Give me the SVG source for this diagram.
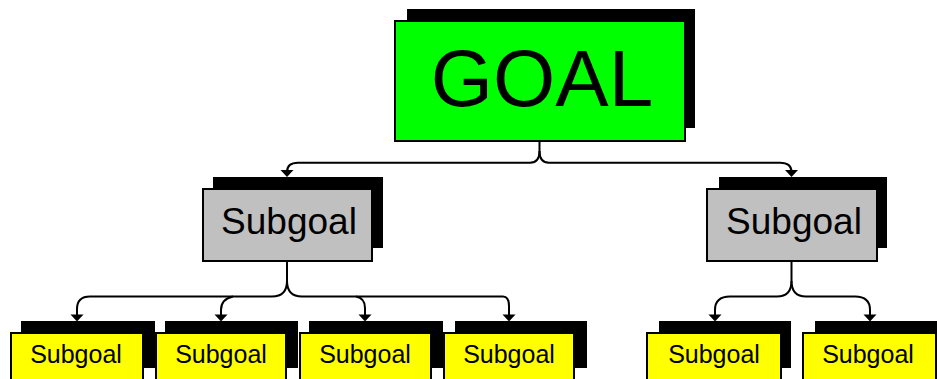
<svg xmlns="http://www.w3.org/2000/svg" width="937" height="379" viewBox="0 0 937 379">
<style>
.shadow{fill:#000}
.box{stroke:#000;stroke-width:2}
.goal{fill:#00ff00}
.sub{fill:#c0c0c0}
.leaf{fill:#ffff00}
.t{font-family:"Liberation Sans",Arial,sans-serif;fill:#000;text-anchor:middle}
.conn{fill:none;stroke:#000;stroke-width:2}
.arrow{fill:#000}
</style>
<rect width="937" height="379" fill="#fff"/>
<g id="goal">
<rect class="shadow" x="407" y="9" width="288" height="119"/>
<rect class="box goal" x="395" y="21" width="290" height="120"/>
<text class="t" x="542" y="106" font-size="80">GOAL</text>
</g>
<g id="subgoal-left">
<rect class="shadow" x="213" y="177" width="170" height="71"/>
<rect class="box sub" x="203" y="189" width="169" height="72"/>
<text class="t" x="289" y="234" font-size="37">Subgoal</text>
</g>
<g id="subgoal-right">
<rect class="shadow" x="719" y="177" width="168" height="71"/>
<rect class="box sub" x="707" y="189" width="170" height="72"/>
<text class="t" x="794" y="234" font-size="37">Subgoal</text>
</g>
<g id="leaf1">
<rect class="shadow" x="21" y="321" width="134" height="47"/>
<rect class="box leaf" x="11" y="333" width="132" height="50"/>
<text class="t" x="76" y="363" font-size="25">Subgoal</text>
</g>
<g id="leaf2">
<rect class="shadow" x="165" y="321" width="133" height="47"/>
<rect class="box leaf" x="156" y="333" width="130" height="50"/>
<text class="t" x="221" y="363" font-size="25">Subgoal</text>
</g>
<g id="leaf3">
<rect class="shadow" x="309" y="321" width="134" height="47"/>
<rect class="box leaf" x="300" y="333" width="131" height="50"/>
<text class="t" x="365" y="363" font-size="25">Subgoal</text>
</g>
<g id="leaf4">
<rect class="shadow" x="455" y="321" width="132" height="47"/>
<rect class="box leaf" x="444" y="333" width="130" height="50"/>
<text class="t" x="509" y="363" font-size="25">Subgoal</text>
</g>
<g id="leaf5">
<rect class="shadow" x="659" y="321" width="132" height="47"/>
<rect class="box leaf" x="647" y="333" width="134" height="50"/>
<text class="t" x="714" y="363" font-size="25">Subgoal</text>
</g>
<g id="leaf6">
<rect class="shadow" x="815" y="321" width="134" height="47"/>
<rect class="box leaf" x="803" y="333" width="133" height="50"/>
<text class="t" x="868" y="363" font-size="25">Subgoal</text>
</g>
<g id="connectors">
<path class="conn" d="M539.5,141 V151 Q539.5,162.7 530,162.7 H298 Q287,162.7 287,172"/>
<path class="conn" d="M539.5,151 Q539.5,162.7 549,162.7 H780 Q791.5,162.7 791.5,172"/>
<polygon class="arrow" points="280.5,170 293.5,170 287,177"/>
<polygon class="arrow" points="785,170 798,170 791.5,177"/>
<path class="conn" d="M287,261 V281 Q287,296.5 272,296.5 H90 Q77,296.5 77,309 V316"/>
<path class="conn" d="M287,281 Q287,296.5 302,296.5 H503 Q509,296.5 509,306 V316"/>
<path class="conn" d="M233,296.5 Q221,299 221,310 V316"/>
<path class="conn" d="M356,296.5 Q365,298 365,308 V316"/>
<polygon class="arrow" points="70.5,314.5 83.5,314.5 77,321.5"/>
<polygon class="arrow" points="214.5,314.5 227.5,314.5 221,321.5"/>
<polygon class="arrow" points="358.5,314.5 371.5,314.5 365,321.5"/>
<polygon class="arrow" points="502.5,314.5 515.5,314.5 509,321.5"/>
<path class="conn" d="M791.5,261 V281 Q791.5,296.5 777,296.5 H730 Q715,296.5 715,310 V316"/>
<path class="conn" d="M791.5,281 Q791.5,296.5 806,296.5 H855 Q870,296.5 870,310 V316"/>
<polygon class="arrow" points="708.5,314.5 721.5,314.5 715,321.5"/>
<polygon class="arrow" points="863.5,314.5 876.5,314.5 870,321.5"/>
</g>
</svg>
